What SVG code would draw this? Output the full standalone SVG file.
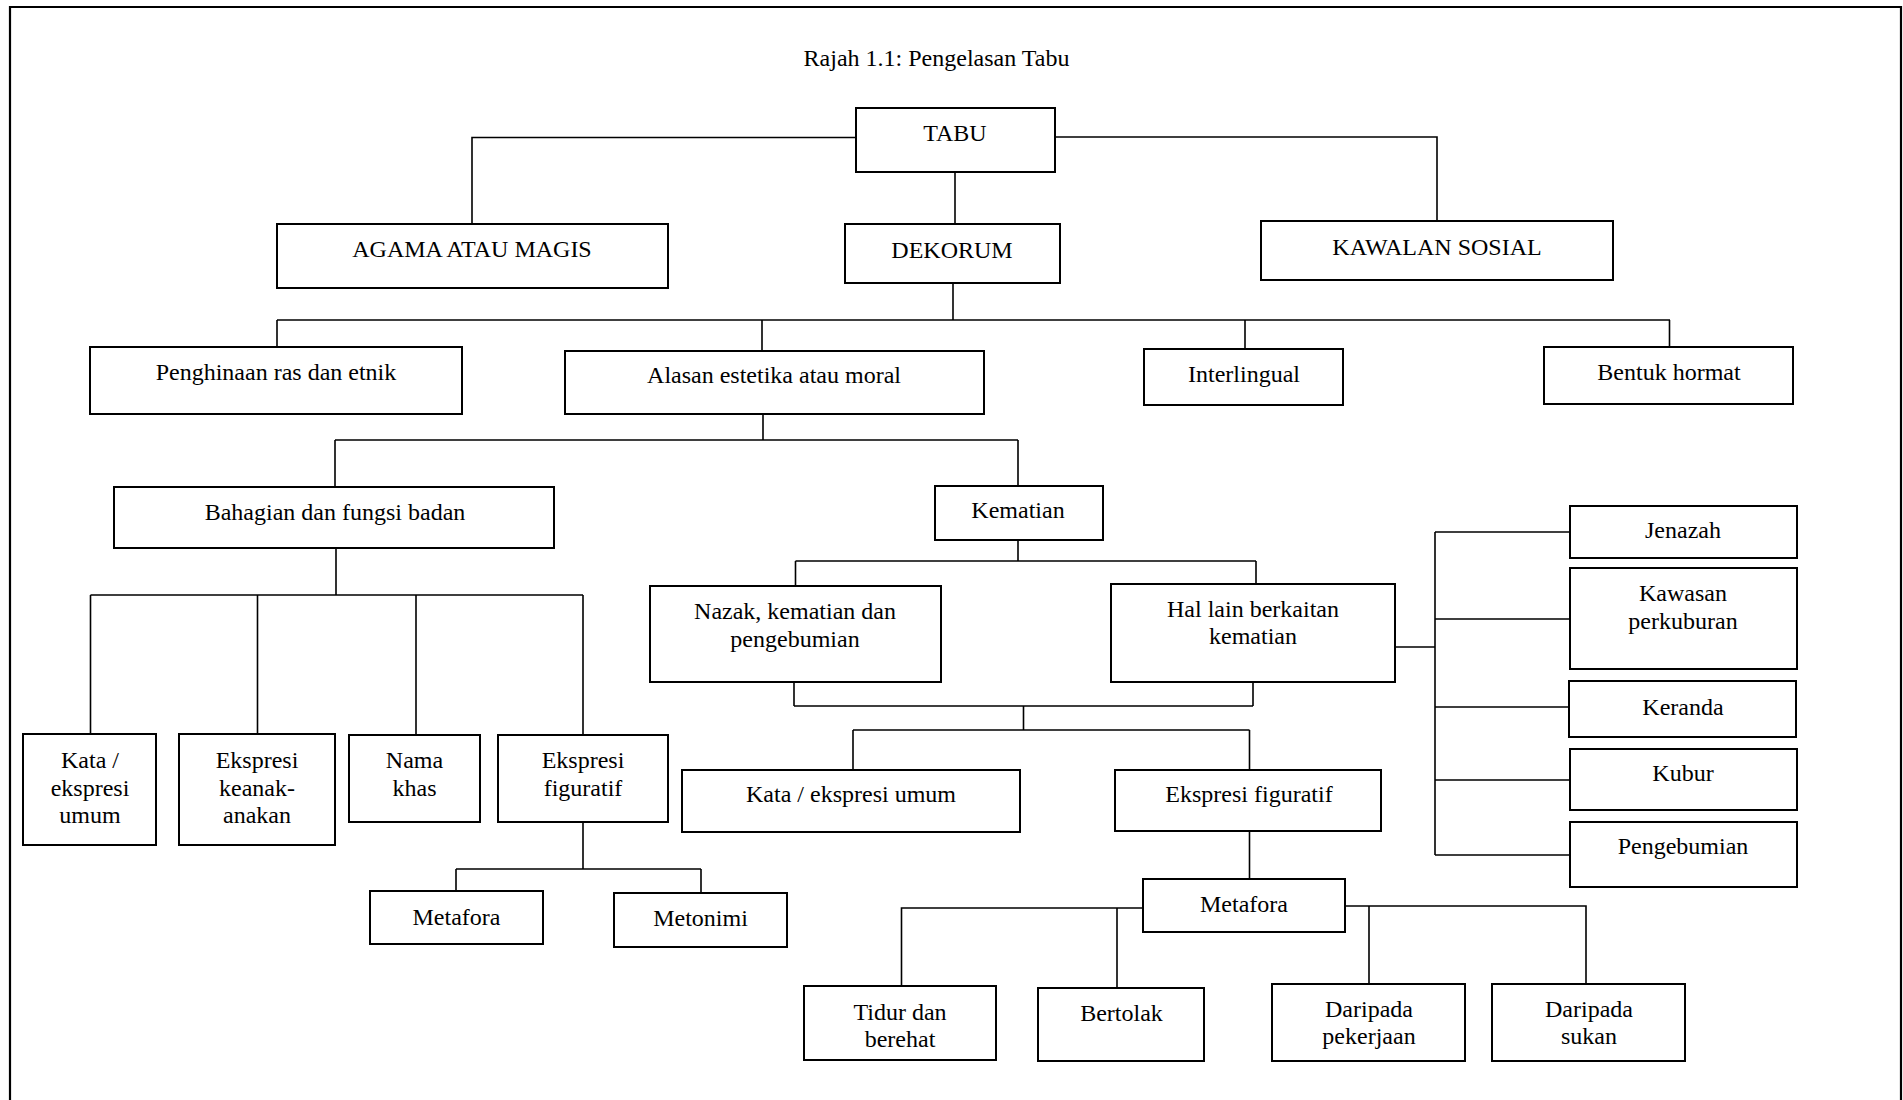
<svg xmlns="http://www.w3.org/2000/svg" width="1903" height="1100" viewBox="0 0 1903 1100">
<style>
.box{fill:#fff;stroke:#000;stroke-width:2}
.ln{fill:none;stroke:#000;stroke-width:1.6}
text{font-family:"Liberation Serif","Times New Roman",serif;font-size:24px;fill:#000;text-anchor:middle}
</style>
<rect x="0" y="0" width="1903" height="1100" fill="#fff"/>
<path d="M10,1100 V7 H1901 V1100" fill="none" stroke="#000" stroke-width="2.2"/>
<text id="title" x="936.5" y="66">Rajah 1.1: Pengelasan Tabu</text>
<g id="connectors">
<path class="ln" d="M856,137.5 H472 V224"/>
<path class="ln" d="M1055,137 H1437 V221"/>
<path class="ln" d="M955,172 V224"/>
<path class="ln" d="M953,283 V320"/>
<path class="ln" d="M277,320 H1670"/>
<path class="ln" d="M277,320 V347 M762,320 V351 M1245,320 V349 M1669.5,320 V347"/>
<path class="ln" d="M763,414 V440 M335,440 H1018 M335,440 V487 M1018,440 V486"/>
<path class="ln" d="M336,548 V595 M90.5,595 H583 M90.5,595 V734 M257.5,595 V734 M416,595 V735 M583,595 V735"/>
<path class="ln" d="M583,822 V869 M456,869 H701 M456,869 V891 M701,869 V893"/>
<path class="ln" d="M1018,540 V561 M795.5,561 H1256 M795.5,561 V586 M1256,561 V584"/>
<path class="ln" d="M794,682 V706 M1253,682 V706 M794,706 H1253 M1023.5,706 V730 M853,730 H1249.5 M853,730 V770 M1249.5,730 V770"/>
<path class="ln" d="M1249.5,831 V879"/>
<path class="ln" d="M1143,908 H901.5 V986 M1117,908 V988"/>
<path class="ln" d="M1345,906 H1586 V984 M1369,906 V984"/>
<path class="ln" d="M1395,647 H1435 M1435,532 V855 M1435,532 H1570 M1435,619 H1570 M1435,707 H1570 M1435,780 H1570 M1435,855 H1570"/>
</g>
<g id="n-tabu"><rect class="box" x="856" y="108" width="199" height="64"/><text x="955" y="141">TABU</text></g>
<g id="n-agama"><rect class="box" x="277" y="224" width="391" height="64"/><text x="472" y="257">AGAMA ATAU MAGIS</text></g>
<g id="n-dekorum"><rect class="box" x="845" y="224" width="215" height="59"/><text x="952" y="258">DEKORUM</text></g>
<g id="n-kawalan"><rect class="box" x="1261" y="221" width="352" height="59"/><text x="1437" y="255">KAWALAN SOSIAL</text></g>
<g id="n-penghinaan"><rect class="box" x="90" y="347" width="372" height="67"/><text x="276" y="380">Penghinaan ras dan etnik</text></g>
<g id="n-alasan"><rect class="box" x="565" y="351" width="419" height="63"/><text x="774" y="383">Alasan estetika atau moral</text></g>
<g id="n-interlingual"><rect class="box" x="1144" y="349" width="199" height="56"/><text x="1244" y="381.5">Interlingual</text></g>
<g id="n-bentuk"><rect class="box" x="1544" y="347" width="249" height="57"/><text x="1669" y="380">Bentuk hormat</text></g>
<g id="n-bahagian"><rect class="box" x="114" y="487" width="440" height="61"/><text x="335" y="520">Bahagian dan fungsi badan</text></g>
<g id="n-kematian"><rect class="box" x="935" y="486" width="168" height="54"/><text x="1018" y="518">Kematian</text></g>
<g id="n-kata1"><rect class="box" x="23" y="734" width="133" height="111"/><text x="90" y="768">Kata /</text><text x="90" y="796">ekspresi</text><text x="90" y="823">umum</text></g>
<g id="n-keanak"><rect class="box" x="179" y="734" width="156" height="111"/><text x="257" y="768">Ekspresi</text><text x="257" y="796">keanak-</text><text x="257" y="823">anakan</text></g>
<g id="n-nama"><rect class="box" x="349" y="735" width="131" height="87"/><text x="414.5" y="768">Nama</text><text x="414.5" y="796">khas</text></g>
<g id="n-figuratif1"><rect class="box" x="498" y="735" width="170" height="87"/><text x="583" y="768">Ekspresi</text><text x="583" y="796">figuratif</text></g>
<g id="n-metafora1"><rect class="box" x="370" y="891" width="173" height="53"/><text x="456.5" y="925">Metafora</text></g>
<g id="n-metonimi"><rect class="box" x="614" y="893" width="173" height="54"/><text x="700.5" y="926">Metonimi</text></g>
<g id="n-nazak"><rect class="box" x="650" y="586" width="291" height="96"/><text x="795" y="619">Nazak, kematian dan</text><text x="795" y="647">pengebumian</text></g>
<g id="n-hallain"><rect class="box" x="1111" y="584" width="284" height="98"/><text x="1253" y="617">Hal lain berkaitan</text><text x="1253" y="644">kematian</text></g>
<g id="n-kata2"><rect class="box" x="682" y="770" width="338" height="62"/><text x="851" y="802">Kata / ekspresi umum</text></g>
<g id="n-figuratif2"><rect class="box" x="1115" y="770" width="266" height="61"/><text x="1249" y="802">Ekspresi figuratif</text></g>
<g id="n-metafora2"><rect class="box" x="1143" y="879" width="202" height="53"/><text x="1244" y="912">Metafora</text></g>
<g id="n-tidur"><rect class="box" x="804" y="986" width="192" height="74"/><text x="900" y="1020">Tidur dan</text><text x="900" y="1047">berehat</text></g>
<g id="n-bertolak"><rect class="box" x="1038" y="988" width="166" height="73"/><text x="1121.5" y="1021">Bertolak</text></g>
<g id="n-pekerjaan"><rect class="box" x="1272" y="984" width="193" height="77"/><text x="1369" y="1017">Daripada</text><text x="1369" y="1044">pekerjaan</text></g>
<g id="n-sukan"><rect class="box" x="1492" y="984" width="193" height="77"/><text x="1589" y="1017">Daripada</text><text x="1589" y="1044">sukan</text></g>
<g id="n-jenazah"><rect class="box" x="1570" y="506" width="227" height="52"/><text x="1683" y="538">Jenazah</text></g>
<g id="n-kawasan"><rect class="box" x="1570" y="568" width="227" height="101"/><text x="1683" y="601">Kawasan</text><text x="1683" y="629">perkuburan</text></g>
<g id="n-keranda"><rect class="box" x="1569" y="681" width="227" height="56"/><text x="1683" y="715">Keranda</text></g>
<g id="n-kubur"><rect class="box" x="1570" y="749" width="227" height="61"/><text x="1683" y="781">Kubur</text></g>
<g id="n-pengebumian"><rect class="box" x="1570" y="822" width="227" height="65"/><text x="1683" y="854">Pengebumian</text></g>
</svg>
